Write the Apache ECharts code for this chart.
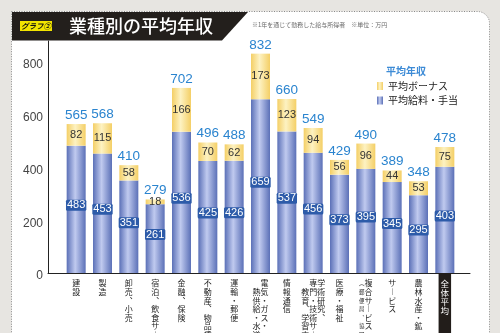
<!DOCTYPE html>
<html>
<head>
<meta charset="utf-8">
<script src="https://cdn.jsdelivr.net/npm/echarts@6/dist/echarts.min.js"></script>
<style>
  html, body { margin: 0; padding: 0; background: #e7e5e1; }
  #chart { width: 500px; height: 333px; }
</style>
</head>
<body>
<div id="chart"></div>
<script>
// 業種別の平均年収（万円）
const categories = [
  '建設', '製造', '卸売、小売', '宿泊、飲食サービス', '金融、保険', '不動産、物品賃貸',
  '運輸・郵便', '電気・ガス・熱供給・水道', '情報通信',
  '学術研究、専門・技術サービス、教育、学習支援', '医療・福祉',
  '複合サービス（郵便局、協同組合）', 'サービス', '農林水産・鉱', '全体平均'
];
const salary = [483, 453, 351, 261, 536, 425, 426, 659, 537, 456, 373, 395, 345, 295, 403];
const bonus  = [82, 115, 58, 18, 166, 70, 62, 173, 123, 94, 56, 96, 44, 53, 75];
const totals = [565, 568, 410, 279, 702, 496, 488, 832, 660, 549, 429, 490, 389, 348, 478];
const yTicks = [0, 200, 400, 600, 800];

// 縦書きラベルの行分け（右の列から順に）と各列の書き出し位置（行数）
const labelColumns = {
  '電気・ガス・熱供給・水道': { cols: ['電気・ガス・', '熱供給・水道'], lead: [0, 1] },
  '学術研究、専門・技術サービス、教育、学習支援': {
    cols: ['学術研究、', '専門・技術サービス、', '教育、学習支援'], lead: [0, 0, 1] },
  '複合サービス（郵便局、協同組合）': {
    cols: ['複合サービス', '（郵便局、協同組合）'], lead: [0, 0], small: [false, true] }
};

const verticalForms = { '、': '︑', 'ー': '︱', '（': '︵', '）': '︶' };
function toVertical(s) {
  return Array.from(s).map(c => verticalForms[c] || c);
}

function verticalLabel(name) {
  const spec = labelColumns[name] || { cols: [name], lead: [0] };
  const cols = spec.cols.map(toVertical);
  const lead = spec.lead;
  const small = spec.small || cols.map(() => false);
  let rows = 0;
  cols.forEach((c, i) => { rows = Math.max(rows, lead[i] + c.length); });
  const lines = [];
  for (let r = 0; r < rows; r++) {
    let line = '';
    for (let i = cols.length - 1; i >= 0; i--) {
      const ch = cols[i][r - lead[i]] || '\u3000';
      line += '{' + (small[i] ? 's' : 'm') + '|' + ch + '}';
    }
    lines.push(line);
  }
  return lines.join('\n');
}

const categoryData = categories.map(name => name === '全体平均'
  ? { value: name, textStyle: { backgroundColor: '#221d1a', padding: [6, 2, 40, 2] } }
  : name);

const blueGrad = new echarts.graphic.LinearGradient(0, 0, 1, 0, [
  { offset: 0, color: '#5b70b7' },
  { offset: 0.45, color: '#c0caef' },
  { offset: 1, color: '#5b70b7' }
]);
const yellowGrad = new echarts.graphic.LinearGradient(0, 0, 1, 0, [
  { offset: 0, color: '#f4cf66' },
  { offset: 0.45, color: '#fdf2c2' },
  { offset: 1, color: '#f4cf66' }
]);

const FONT = '"Liberation Sans", "Noto Sans CJK JP", sans-serif';
const JFONT = '"Noto Sans CJK JP", sans-serif';

const chart = echarts.init(document.getElementById('chart'), null, { renderer: 'canvas' });

chart.setOption({
  backgroundColor: '#e7e5e1',
  animation: false,
  textStyle: { fontFamily: FONT },
  graphic: [
    { type: 'rect', z: -100, silent: true,
      shape: { x: 11.5, y: 11.5, width: 478, height: 340, r: [0, 12, 0, 0] },
      style: { fill: '#ffffff', stroke: '#8a8a8a', lineWidth: 1, lineDash: [1, 1.5] } },
    { type: 'polygon', z: 100, silent: true,
      shape: { points: [[12, 12], [248, 12], [222, 40.5], [12, 40.5]] },
      style: { fill: '#231f1c' } },
    { type: 'rect', z: 101, silent: true,
      shape: { x: 20, y: 21, width: 32, height: 10 },
      style: { fill: '#f2e400' } },
    { type: 'text', z: 102, silent: true, x: 36, y: 26.5,
      style: { text: 'グラフ②', fill: '#111', font: 'italic bold 7.5px "Noto Sans CJK JP", sans-serif',
               align: 'center', verticalAlign: 'middle' } },
    { type: 'text', z: 102, silent: true, x: 69, y: 26.5,
      style: { text: '業種別の平均年収', fill: '#ffffff', font: '500 18px "Noto Sans CJK JP", sans-serif',
               verticalAlign: 'middle' } },
    { type: 'text', z: 102, silent: true, x: 252, y: 25,
      style: { text: '※1年を通じて勤務した給与所得者　※単位：万円', fill: '#6a6a6a',
               font: '6px "Noto Sans CJK JP", sans-serif', verticalAlign: 'middle' } }
  ],
  title: {
    text: '平均年収', left: 381, top: 61,
    textStyle: { fontFamily: JFONT, fontSize: 10, fontWeight: 'bold', color: '#3d8bd6' }
  },
  legend: {
    data: ['平均ボーナス', '平均給料・手当'],
    orient: 'vertical', left: 372, top: 75,
    itemWidth: 6, itemHeight: 8, itemGap: 2.5, icon: 'rect',
    textStyle: { fontFamily: JFONT, fontSize: 10, lineHeight: 12, color: '#222' }
  },
  grid: [
    { left: 63, right: 42, top: 41, bottom: 60, outerBoundsMode: 'none', containLabel: false },
    { left: 48, right: 30, top: 41, bottom: 60, outerBoundsMode: 'none', containLabel: false }
  ],
  xAxis: [
    { type: 'category', gridIndex: 0, data: categoryData,
      axisLine: { show: false }, axisTick: { show: false },
      axisLabel: {
        interval: 0, margin: 0, padding: [6, 0, 0, 0], color: '#222', hideOverlap: false,
        formatter: (v) => {
          const s = verticalLabel(v);
          return v === '全体平均' ? s.replace(/\{m\|/g, '{w|') : s;
        },
        rich: {
          m: { fontFamily: JFONT, fontSize: 8, lineHeight: 8.6, color: '#222' },
          s: { fontFamily: JFONT, fontSize: 5.5, lineHeight: 8.6, color: '#222' },
          w: { fontFamily: JFONT, fontSize: 8.5, lineHeight: 9.2, color: '#ffffff' }
        }
      } },
    { type: 'value', gridIndex: 1, min: 0, max: 1,
      axisLine: { show: true, lineStyle: { color: '#222', width: 1 } },
      axisTick: { show: false }, axisLabel: { show: false }, splitLine: { show: false } }
  ],
  yAxis: [
    { type: 'value', gridIndex: 0, min: 0, max: 880, show: false },
    { type: 'value', gridIndex: 1, min: 0, max: 880, interval: 200,
      axisLine: { show: true, lineStyle: { color: '#222', width: 1 } },
      axisTick: { show: false }, splitLine: { show: false },
      axisLabel: {
        margin: 5, color: '#444', fontSize: 12, verticalAlign: 'top', lineHeight: 6,
        formatter: (v) => yTicks.includes(v) ? String(v) : ''
      } }
  ],
  series: [
    { name: '平均給料・手当', type: 'bar', stack: 'pay', xAxisIndex: 0, yAxisIndex: 0,
      barWidth: 19, barGap: '-100%', data: salary,
      itemStyle: { color: blueGrad },
      label: { show: true, position: 'inside', offset: [0, -4],
        color: '#ffffff', fontSize: 11, fontFamily: FONT,
        backgroundColor: '#2d5ba9', borderRadius: 1.5, padding: [0, 1], lineHeight: 11 } },
    { name: '平均ボーナス', type: 'bar', stack: 'pay', xAxisIndex: 0, yAxisIndex: 0,
      barWidth: 19, barGap: '-100%', data: bonus,
      itemStyle: { color: yellowGrad },
      label: { show: true, position: 'inside', color: '#333', fontSize: 11, fontFamily: FONT } },
    { name: '年収合計', type: 'bar', xAxisIndex: 0, yAxisIndex: 0, silent: true,
      barWidth: 19, barGap: '-100%', data: totals, z: 1,
      itemStyle: { color: 'rgba(0,0,0,0)' },
      label: { show: true, position: 'top', distance: 2,
        color: '#2a84cf', fontSize: 13.5, fontFamily: FONT } }
  ]
});
</script>
</body>
</html>
